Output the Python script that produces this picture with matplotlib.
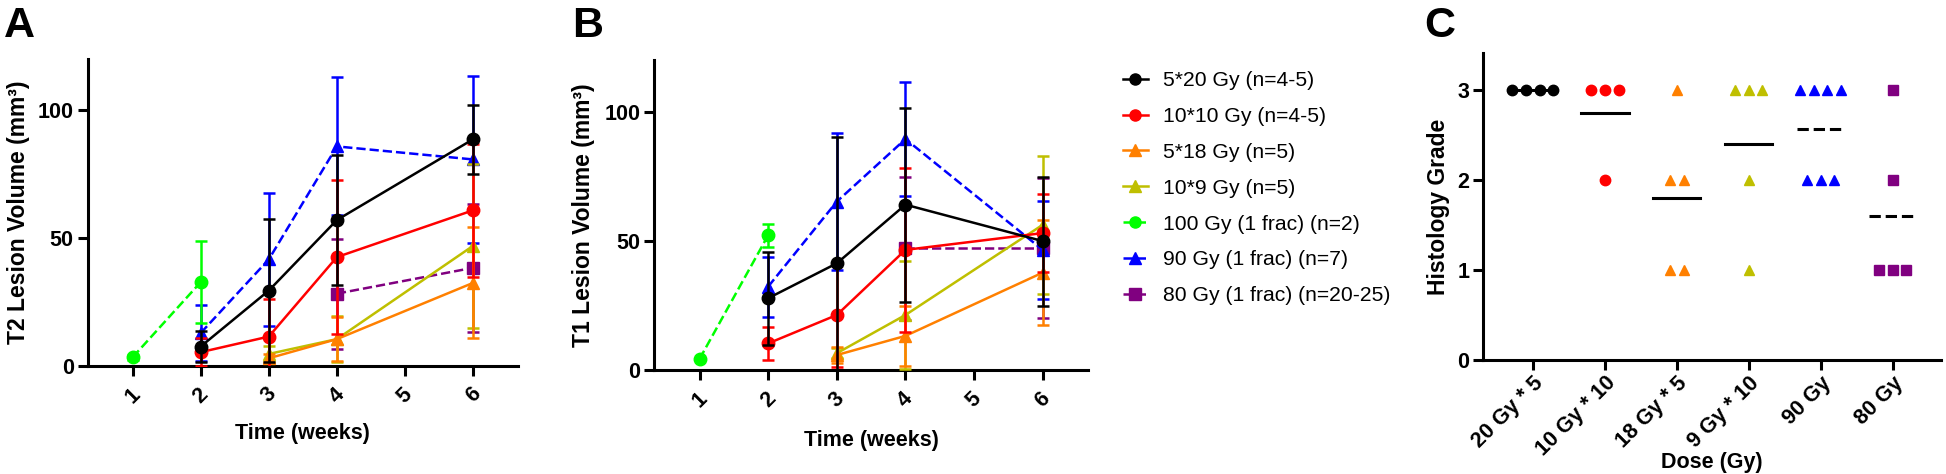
import numpy as np
import matplotlib
matplotlib.use('Agg')
import matplotlib.pyplot as plt
from matplotlib.lines import Line2D

plt.rcParams['font.family'] = ['Liberation Sans', 'DejaVu Sans']

# ---------------- data ----------------
week_ticks = [1, 2, 3, 4, 5, 6]
series_labels = ['5*20 Gy (n=4-5)', '10*10 Gy (n=4-5)', '5*18 Gy (n=5)', '10*9 Gy (n=5)',
                 '100 Gy (1 frac) (n=2)', '90 Gy (1 frac) (n=7)', '80 Gy (1 frac) (n=20-25)']
series_colors = ['#000000', '#FF0000', '#FF8000', '#BFBF00', '#00FF00', '#0000FF', '#800080']
series_markers = ['o', 'o', '^', '^', 'o', '^', 's']
series_styles = ['-', '-', '-', '-', '--', '--', '--']

# weeks at which each series was measured (same for T1 and T2)
series_weeks = [[2, 3, 4, 6], [2, 3, 4, 6], [3, 4, 6], [3, 4, 6], [1, 2], [2, 3, 4, 6], [4, 6]]

# Panel A: T2 lesion volume (mean, error)
t2_mean = [[7.5, 29.4, 57.0, 88.6], [5.3, 11.4, 42.5, 60.8], [2.9, 10.4, 32.4], [4.6, 10.4, 46.9],
           [3.3, 32.7], [12.8, 41.6, 85.8, 80.7], [28.2, 38.3]]
t2_err = [[6.2, 28.0, 25.5, 13.5], [5.5, 14.7, 30.0, 26.0], [1.5, 8.5, 21.7], [3.0, 9.0, 32.0],
          [1.0, 16.0], [11.0, 26.0, 27.0, 32.5], [21.5, 25.0]]

# Panel B: T1 lesion volume (mean, error)
t1_mean = [[27.8, 41.3, 64.0, 49.9], [10.3, 21.3, 46.5, 53.0], [5.8, 13.2, 37.7], [6.5, 21.3, 56.2],
           [4.3, 52.2], [32.3, 65.2, 89.4, 46.5], [47.2, 47.2]]
t1_err = [[18.0, 49.0, 37.5, 25.0], [6.5, 20.0, 31.7, 15.0], [3.0, 11.6, 20.4], [2.0, 21.0, 26.7],
          [0.5, 4.4], [11.6, 26.5, 22.0, 19.0], [27.7, 27.0]]

# Panel C: histology grade
dose_groups = ['20 Gy * 5', '10 Gy * 10', '18 Gy * 5', '9 Gy * 10', '90 Gy', '80 Gy']
grades = [[3, 3, 3, 3], [3, 3, 3, 2], [3, 2, 2, 1, 1], [3, 3, 3, 2, 1],
          [3, 3, 3, 3, 2, 2, 2], [3, 2, 1, 1, 1]]
group_colors = ['#000000', '#FF0000', '#FF8000', '#BFBF00', '#0000FF', '#800080']
group_markers = ['o', 'o', '^', '^', '^', 's']
mean_styles = ['-', '-', '-', '-', '--', '--']

# ---------------- figure ----------------
W, H = 1946, 474
fig = plt.figure(figsize=(W / 100, H / 100), dpi=100)

SPW = 2.2
TICK_FS = 15.5
XLABEL_FS = 15.5
YLABEL_FS = 16.5


def px_axes(l, r, t, b):
    return fig.add_axes([l / W, 1 - b / H, (r - l) / W, (b - t) / H])


def style_axes(ax):
    for s in ['top', 'right']:
        ax.spines[s].set_visible(False)
    for s in ['left', 'bottom']:
        ax.spines[s].set_linewidth(SPW)
    ax.tick_params(direction='out', length=7, width=SPW, pad=3, labelsize=TICK_FS)
    for lab in ax.get_xticklabels() + ax.get_yticklabels():
        lab.set_fontweight('bold')


def line_panel(ax, means, errs, ylabel, xlab_y, ylab_x):
    order = list(range(len(means)))[::-1]
    for z, i in enumerate(order):
        ax.errorbar(series_weeks[i], means[i], yerr=errs[i], color=series_colors[i],
                    marker=series_markers[i], markersize=9, linestyle=series_styles[i],
                    linewidth=1.8, elinewidth=1.8, capsize=4, capthick=1.8,
                    zorder=3 + z, clip_on=True)
    ax.set_xlim(0.34, 6.66)
    ax.set_ylim(0, 120)
    ax.set_xticks(week_ticks)
    ax.set_yticks([0, 50, 100])
    style_axes(ax)
    ax.tick_params(axis='x', pad=6)
    for lab in ax.get_xticklabels():
        lab.set_rotation(45)
        lab.set_ha('center')
    ax.set_xlabel('Time (weeks)', fontsize=XLABEL_FS, fontweight='bold')
    ax.set_ylabel(ylabel, fontsize=YLABEL_FS, fontweight='bold')
    ax.xaxis.set_label_coords(0.5, xlab_y)
    ax.yaxis.set_label_coords(ylab_x, 0.5)


axA = px_axes(87.7, 518, 59, 365.7)
line_panel(axA, t2_mean, t2_err, 'T2 Lesion Volume (mm³)', -0.187, -0.135)

axB = px_axes(654.3, 1088, 60, 370)
line_panel(axB, t1_mean, t1_err, 'T1 Lesion Volume (mm³)', -0.194, -0.137)

# Panel C
axC = px_axes(1483.3, 1940.7, 53.3, 360)
spacing = 0.19
half = 0.33
for g, vals in enumerate(grades):
    vals = np.array(vals)
    m = vals.mean()
    axC.plot([g - half, g + half], [m, m], color='black', linewidth=2.2,
             linestyle=mean_styles[g], zorder=2)
    for level in np.unique(vals):
        n = int((vals == level).sum())
        xs = g + (np.arange(n) - (n - 1) / 2) * spacing
        axC.plot(xs, [level] * n, linestyle='none', marker=group_markers[g],
                 color=group_colors[g], markersize=7.5, zorder=3, clip_on=False)
axC.set_xlim(-0.69, 5.67)
axC.set_ylim(0, 3.41)
axC.set_xticks(range(len(dose_groups)))
axC.set_xticklabels(dose_groups)
axC.set_yticks([0, 1, 2, 3])
style_axes(axC)
for lab in axC.get_xticklabels():
    lab.set_rotation(45)
    lab.set_ha('right')
    lab.set_rotation_mode('anchor')
axC.tick_params(axis='x', pad=2)
axC.set_xlabel('Dose (Gy)', fontsize=XLABEL_FS, fontweight='bold')
axC.set_ylabel('Histology Grade', fontsize=YLABEL_FS, fontweight='bold')
axC.xaxis.set_label_coords(0.5, -0.30)
axC.yaxis.set_label_coords(-0.073, 0.5)

# Legend
handles = [Line2D([0], [0], color=c, marker=mk, linestyle=ls, linewidth=1.8, markersize=8)
           for c, mk, ls in zip(series_colors, series_markers, series_styles)]
fig.legend(handles, series_labels, loc='upper left', bbox_to_anchor=(1123 / W, 1 - 71 / H),
           frameon=False, fontsize=15.2, handlelength=1.18, handletextpad=0.71,
           labelspacing=0.8, borderpad=0, borderaxespad=0)

# Panel letters
for txt, x in [('A', 4), ('B', 572), ('C', 1424)]:
    fig.text(x / W, 1 - 6 / H, txt, fontsize=31, fontweight='bold', ha='left', va='top')

fig.savefig('out.png', dpi=100)
